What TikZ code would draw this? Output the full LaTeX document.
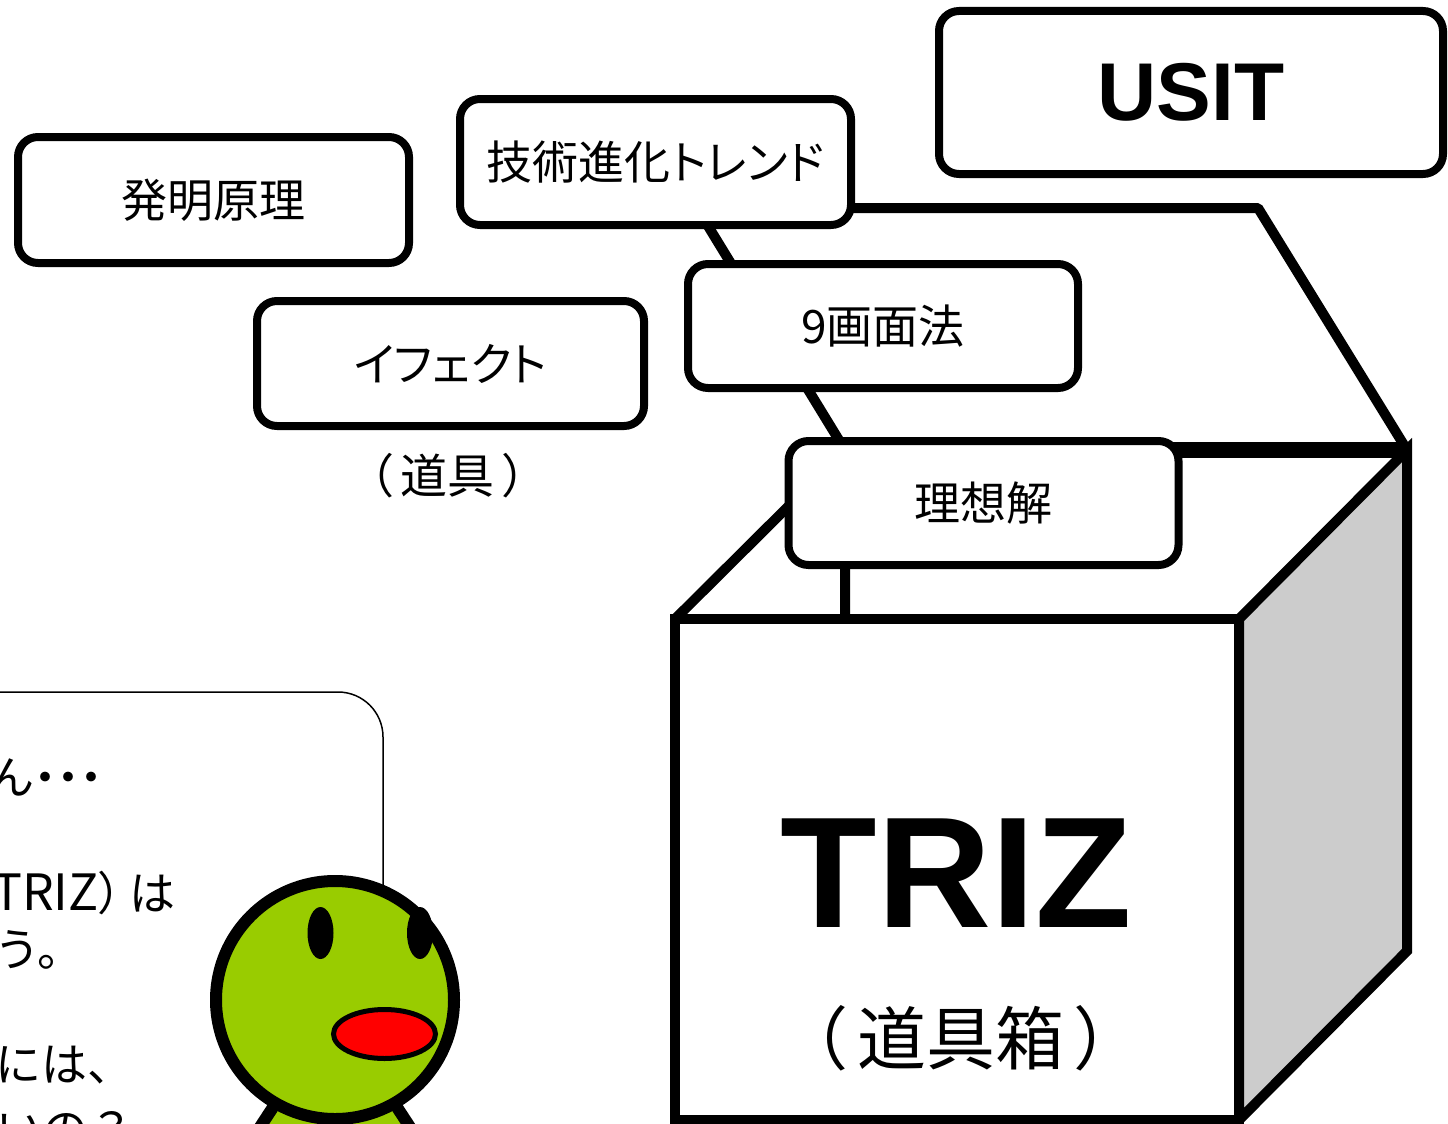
\documentclass[tikz,border=0pt]{standalone}
\usepackage{fontspec}
\newfontfamily\jpfont{Noto Sans CJK JP}
\newfontfamily\jpnarrow{Noto Sans CJK JP}[RawFeature=+palt]
\newfontfamily\sansfont{Liberation Sans}
\definecolor{sidegray}{HTML}{CCCCCC}
\definecolor{headgreen}{HTML}{99CC00}
\newcommand{\jpsize}[1]{\jpfont\fontsize{#1pt}{#1pt}\selectfont}
\newcommand{\jpnarrowsize}[1]{\jpnarrow\fontsize{#1pt}{#1pt}\selectfont}
\begin{document}
\begin{tikzpicture}[x=1pt,y=-1pt,
  tag/.style={draw, line width=8pt, rounded corners=20pt, fill=white,
    inner sep=0pt, font=\jpnarrowsize{46}},
  edge/.style={line width=10pt},
  said/.style={anchor=base west, inner sep=0pt, font=\jpsize{46}}]
\useasboundingbox (0,0) rectangle (1448,1124);
\clip (0,0) rectangle (1448,1124);

% ---- the box: corners ----
\coordinate (lidL) at (697,208);
\coordinate (lidR) at (1258,208);
\coordinate (backR) at (1407,450);
\coordinate (backL) at (845,450);
\coordinate (frontTL) at (675,619);
\coordinate (frontTR) at (1239,619);
\coordinate (frontBR) at (1239,1120);
\coordinate (sideBR) at (1407,951);

% open lid
\draw[edge, line join=bevel, fill=white] (lidL) -- (lidR) -- (backR) -- (backL) -- cycle;
% top opening
\draw[edge] (frontTL) -- (backL) -- (backL |- frontTL);
\draw[line width=16pt] (backL) -- (backR);
% side face
\draw[edge, fill=sidegray] (frontTR) -- (backR) -- (sideBR) -- (frontBR) -- cycle;
% front face
\draw[edge, fill=white] (frontTL) rectangle (frontBR);

\node[inner sep=0pt, font=\sansfont\bfseries\fontsize{158pt}{160pt}\selectfont] (triz) at (956,873) {TRIZ};
\node[inner sep=0pt, font=\jpsize{69}] (toolbox) at (961,1038) {（\hspace{9pt}道具箱\hspace{9pt}）};

% ---- tools ----
\node[tag, minimum width=391pt, minimum height=126pt] (hatsumei) at (213.5,200) {発明原理};
\node[tag, minimum width=391pt, minimum height=126pt] (trend) at (655.5,162) {技術進化トレンド};
\node[tag, minimum width=504pt, minimum height=163pt,
      font=\sansfont\bfseries\fontsize{82pt}{84pt}\selectfont] (usit) at (1191,92.5) {\raisebox{-3pt}{USIT}};
\node[tag, minimum width=387pt, minimum height=125pt] (effect) at (450.5,363.5) {イフェクト};
\node[inner sep=0pt, font=\jpsize{47}] (tool) at (448,476) {（\hspace{7pt}道具\hspace{7pt}）};
\node[tag, minimum width=390pt, minimum height=124pt] (nine) at (883,326) {9画面法};
\node[tag, minimum width=390pt, minimum height=124pt] (ideal) at (983.5,503) {理想解};

% ---- speech bubble ----
\draw[line width=1.5pt, rounded corners=45pt, fill=white] (-80,692) rectangle (383,1300);
\node[said] (l1) at (-12,794) {ん{\jpnarrowsize{46}・・・}};
\node[said] (l3) at (-8,910) {{\fontsize{50pt}{50pt}\selectfont TRIZ}{\jpnarrowsize{46}）}\hspace{8pt}は};
\node[said] (l4) at (-6,966) {う。};
\node[said] (l6) at (-5,1081) {には、};
\node[said] (l7) at (-4,1146) {いの？};

% ---- character ----
\draw[line width=12pt, fill=headgreen] (245,1150) -- (283,1092) -- (387,1092) -- (425,1150) -- cycle;
\draw[line width=12pt, fill=headgreen] (335,1000) circle [radius=119pt];
\fill (320.5,933) ellipse [x radius=13pt, y radius=26pt];
\fill (420,933) ellipse [x radius=13pt, y radius=26pt];
\draw[line width=5pt, fill=red] (384.5,1034) ellipse [x radius=51pt, y radius=24.5pt];
\end{tikzpicture}
\end{document}
